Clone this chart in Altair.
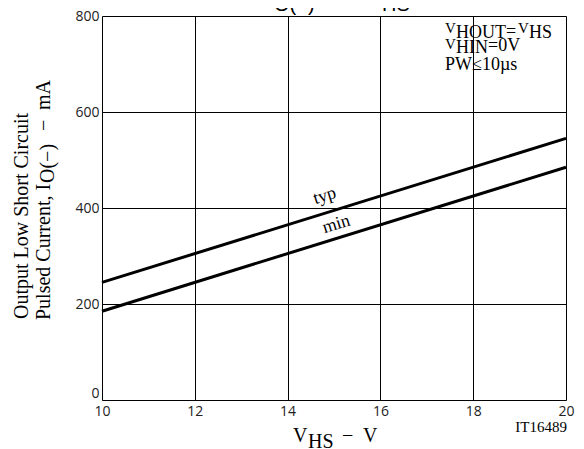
import altair as alt
import pandas as pd

# ---- data ----
vhs = [10, 20]
typ_ma = [245, 545]
min_ma = [185, 485]
x_ticks = [10, 12, 14, 16, 18, 20]
y_ticks = [0, 200, 400, 600, 800]
curve_names = ["typ", "min"]
curve_label_x = [14.8, 15.05]
curve_label_y = [425, 366]

SERIF = "Liberation Serif"
SANS = "Liberation Sans"
OX, OY = 102, 16  # page position of the plot area's top-left

rows = []
for name, vals in (("typ", typ_ma), ("min", min_ma)):
    for v, c in zip(vhs, vals):
        rows.append({"vhs": v, "ma": c, "curve": name})
df = pd.DataFrame(rows)
lab = pd.DataFrame({"vhs": curve_label_x, "ma": curve_label_y, "name": curve_names})
dummy = pd.DataFrame({"a": [0]})

xs = alt.Scale(domain=[10, 20], nice=False)
ys = alt.Scale(domain=[0, 800], nice=False)

axis_common = dict(title=None, grid=True, ticks=False, domain=False, labelFont="Open Sans",
                   labelFontSize=14, labelColor="#222", labelFlush=False,
                   gridColor="black", gridWidth=1, gridOpacity=1)

lines = alt.Chart(df).mark_line(color="black", strokeWidth=3).encode(
    x=alt.X("vhs:Q", scale=xs, axis=alt.Axis(values=x_ticks, labelPadding=4, **axis_common)),
    y=alt.Y("ma:Q", scale=ys, axis=alt.Axis(
        values=y_ticks, labelPadding=3,
        labelBaseline={"condition": {"test": "datum.value == 0", "value": "bottom"}, "value": "middle"},
        **axis_common)),
    detail="curve:N",
)

labels = alt.Chart(lab).mark_text(font=SERIF, fontSize=18, angle=343, align="center",
                                  baseline="middle", color="black").encode(
    x=alt.X("vhs:Q", scale=xs), y=alt.Y("ma:Q", scale=ys), text="name:N")


def txt(s, px, py, size, font=SERIF, align="left", angle=0):
    return alt.Chart(dummy).mark_text(text=s, font=font, fontSize=size, align=align,
                                      baseline="alphabetic", angle=angle, color="black").encode(
        x=alt.value(px - OX), y=alt.value(py - OY))


ann = [
    # top title (clipped by the page edge)
    txt("I", 268, 8, 20, SANS), txt("O(−)", 274, 11, 20, SANS),
    txt("−", 338, 8, 20, SANS), txt("V", 370, 8, 20, SANS), txt("HS", 382, 11, 20, SANS),
    # conditions
    txt("V", 445, 33, 15), txt("HOUT", 456, 38, 18), txt("=", 506, 37, 18),
    txt("V", 518, 33, 15), txt("HS", 529, 38, 18),
    txt("V", 445, 49, 15), txt("HIN", 456, 53, 18), txt("=0V", 488, 51, 18),
    txt("PW≤10µs", 445, 70, 18),
    # x title
    txt("V", 293, 442, 20), txt("HS", 308, 448, 20), txt("−", 342, 442, 20), txt("V", 363, 442, 20),
    txt("IT16489", 567, 432, 15, align="right"),
    # y title
    txt("Output Low Short Circuit", 28, 216, 20, align="center", angle=270),
    txt("Pulsed Current, I", 50, 320, 20, angle=270),
    txt("O(−)", 54, 183, 20, angle=270),
    txt("−", 50, 131, 20, angle=270),
    txt("mA", 50, 110, 20, angle=270),
]

chart = alt.layer(lines, labels, *ann).properties(
    width=464, height=384,
    autosize=alt.AutoSizeParams(type="none"),
    padding={"left": 94, "top": 8, "right": 10, "bottom": 48},
).configure_view(stroke="black", strokeWidth=1.5).configure(background="white")

chart.save("out.html", embed_options={"renderer": "svg", "actions": False})
